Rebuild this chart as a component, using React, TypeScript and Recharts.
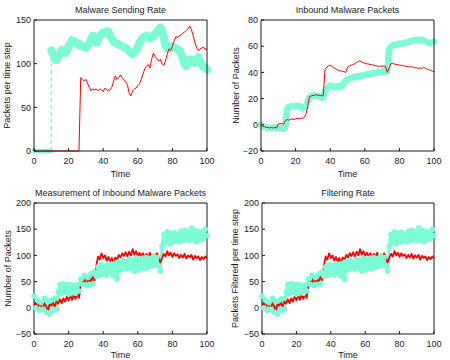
import { LineChart, Line, XAxis, YAxis } from 'recharts';

const CYAN = '#7cfcd6';
const RED = '#ff0000';
const INK = '#1a1a1a';
const FONT = '"Liberation Sans", Arial, Helvetica, sans-serif';
const W = 225;
const H = 180;

// Achsen
const TIME_TICKS = [0, 20, 40, 60, 80, 100];
const RATE_TICKS = [0, 50, 100, 150];
const INBOUND_TICKS = [-20, 0, 20, 40, 60, 80];
const MEASURE_TICKS = [-50, 0, 50, 100, 150, 200];

// Malware Sending Rate (t = 0..100, Schritt 1)
const RATE_CYAN_OFF = [0, 0, 0, 0, 0, 0, 0, 0, 0, 0, 0]; // t 0..10
const RATE_CYAN_JUMP = [0, 115]; // senkrecht bei t = 10
const RATE_CYAN = [ // t 10..100
  115, 112, 105, 104, 109, 111, 116, 113, 112, 115,
  120, 123, 127, 126, 125, 123, 121, 122, 120, 119,
  118, 121, 124, 129, 132, 128, 124, 128, 132, 134,
  136, 135, 137, 137, 132, 128, 125, 124, 123, 122,
  121, 120, 119, 118, 116, 114, 112, 111, 113, 116,
  120, 124, 127, 130, 131, 132, 130, 129, 132, 131,
  134, 136, 139, 141, 138, 130, 121, 117, 117, 118,
  120, 119, 118, 117, 115, 111, 107, 99, 97, 103,
  104, 105, 102, 101, 104, 107, 102, 99, 96, 95,
  93,
];
const RATE_RED = [
  0, 0, 0, 0, 0, 0, 0, 0, 0, 0,
  0, 0, 0, 0, 0, 0, 0, 0, 0, 0,
  0, 0, 0, 0, 0, 0, 0, 84, 82, 80,
  82, 77, 73, 69, 71, 70, 71, 69, 71, 70,
  68, 72, 70, 69, 70, 73, 80, 86, 82, 84,
  87, 84, 81, 79, 76, 66, 63, 69, 71, 72,
  75, 77, 82, 88, 94, 97, 99, 95, 105, 112,
  108, 106, 103, 105, 100, 98, 103, 111, 117, 115,
  120, 126, 131, 130, 132, 133, 135, 136, 138, 140,
  143, 139, 132, 124, 118, 115, 117, 118, 119, 116,
  117,
];

// Inbound Malware Packets
const INBOUND_CYAN = [
  0, -1, -2, -2, -2.5, -2, -2.5, -2, -2.5, -2.5,
  -2.5, -2, -2.5, -3, -2, 12, 13.5, 14, 14.5, 14,
  14.5, 14, 14.5, 14, 12.5, 13.5, 14, 18, 21, 22,
  22, 22.5, 22, 22, 21.5, 20.5, 21, 26, 28, 28.5,
  30, 29.5, 29, 28.5, 29, 29.5, 29, 30, 32, 34,
  34.5, 35, 35.5, 36, 36.5, 37, 37, 37.5, 37.5, 38,
  38, 38.5, 38.5, 39, 39, 39.5, 39.5, 40, 40, 40.5,
  40.5, 41, 40.5, 41, 57, 59.5, 60.5, 61, 61, 61.5,
  62, 62, 62, 62.5, 63, 63, 63.5, 64, 64.5, 64.5,
  65, 64.5, 65, 65, 64.5, 64, 63, 62.5, 62.5, 63,
  63.5,
];
const INBOUND_RED = [
  0, -1, -1.5, -2, -2, -2.5, -2, -2.5, -2, -2.5,
  0.5, 1, 1, 0.5, 3, 4, 3.5, 4, 4.5, 4,
  4.5, 5, 4.5, 5, 5, 5.5, 8, 14, 21.5, 22,
  22.5, 22.5, 23, 22.5, 22.5, 22, 22.5, 42, 44, 45,
  45.5, 44.5, 43.5, 43, 42, 41.5, 41, 41, 40.5, 40,
  44, 45, 45.5, 46, 46.5, 47.5, 48, 49, 48, 47.5,
  47, 46.5, 46.5, 46, 46, 45.5, 45, 45, 44.5, 45,
  44.5, 45, 44.5, 40, 43, 46.5, 47, 46.5, 46, 46,
  45.5, 45.5, 45, 45, 44.5, 44.5, 44, 44.5, 44, 43.5,
  43.5, 43, 43.5, 43, 44, 43, 42.5, 42, 41.5, 41,
  40.5,
];

// Measurement of Inbound Malware Packets (Filtering Rate zeigt dieselben Werte)
const MEASURE_CYAN = [
  22, 0, 15, -5, 10, -3, 18, -8, 12, -12,
  15, -5, 18, -3, 30, 45, 28, 46, 30, 44,
  26, 45, 30, 42, 28, 44, 32, 55, 45, 62,
  42, 58, 44, 65, 46, 68, 60, 78, 62, 82,
  65, 80, 62, 84, 68, 82, 60, 85, 54, 88,
  72, 90, 75, 88, 74, 92, 76, 90, 70, 95,
  72, 92, 76, 95, 74, 96, 78, 94, 80, 98,
  82, 96, 80, 70, 118, 140, 125, 145, 122, 142,
  125, 144, 128, 140, 126, 146, 128, 148, 130, 145,
  128, 152, 130, 148, 126, 146, 130, 144, 132, 150,
  138,
];
const MEASURE_RED = [
  2, 10, 0, 8, 4, -2, 9, 3, -6, 7,
  4, 10, 2, 12, 8, 16, 9, 18, 12, 22,
  14, 24, 15, 26, 17, 28, 19, 42, 52, 47,
  58, 50, 56, 48, 60, 53, 80, 98, 92, 104,
  95, 100, 90, 97, 88, 95, 86, 96, 92, 101,
  96, 104, 99, 106, 98, 107, 100, 112, 102, 108,
  99, 105, 98, 104, 96, 103, 97, 105, 95, 102,
  96, 104, 97, 86, 95, 103, 98, 108, 100, 105,
  97, 104, 99, 102, 95, 101, 96, 103, 94, 100,
  96, 101, 92, 99, 95, 98, 91, 97, 93, 98,
  94,
];

const pts = (ys: number[], start = 0) => ys.map((y, i) => ({ x: start + i, y }));
const minus = (v: number) => (v < 0 ? '\u2212' + Math.abs(v) : String(v));

type Kind = 'thick' | 'dash' | 'red' | 'dots';
type Series = { data: { x: number; y: number }[]; kind: Kind; width?: number };

const PANELS = [
  {
    title: 'Malware Sending Rate', yLabel: 'Packets per time step',
    ox: 0, oy: 0, left: 34, right: 207, top: 20, bottom: 151, yLabelX: 7, timeOffset: 3,
    yDomain: [0, 150], yTicks: RATE_TICKS,
    lines: [
      { data: RATE_CYAN_JUMP.map((y) => ({ x: 10, y })), kind: 'dash' },
      { data: pts(RATE_CYAN_OFF), kind: 'thick', width: 4.5 },
      { data: pts(RATE_CYAN, 10), kind: 'thick', width: 8 },
      { data: pts(RATE_RED), kind: 'red', width: 1 },
    ] as Series[],
  },
  {
    title: 'Inbound Malware Packets', yLabel: 'Number of Packets',
    ox: 225, oy: 0, left: 261, right: 434, top: 20, bottom: 151, yLabelX: 10.5, timeOffset: 3,
    yDomain: [-20, 80], yTicks: INBOUND_TICKS,
    lines: [
      { data: pts(INBOUND_CYAN), kind: 'thick', width: 6.5 },
      { data: pts(INBOUND_RED), kind: 'red', width: 1 },
    ] as Series[],
  },
  {
    title: 'Measurement of Inbound Malware Packets', yLabel: 'Number of Packets',
    ox: 0, oy: 180, left: 34, right: 207, top: 203, bottom: 334, yLabelX: 8, timeOffset: 2.5,
    yDomain: [-50, 200], yTicks: MEASURE_TICKS,
    lines: [
      { data: pts(MEASURE_CYAN), kind: 'dots' },
      { data: pts(MEASURE_RED), kind: 'red', width: 1.8 },
    ] as Series[],
  },
  {
    title: 'Filtering Rate', yLabel: 'Packets Filtered per time step',
    ox: 225, oy: 180, left: 262, right: 434, top: 203, bottom: 334, yLabelX: 10, timeOffset: 2.5,
    yDomain: [-50, 200], yTicks: MEASURE_TICKS,
    lines: [
      { data: pts(MEASURE_CYAN), kind: 'dots' },
      { data: pts(MEASURE_RED), kind: 'red', width: 1.8 },
    ] as Series[],
  },
];

function renderSeries(s: Series, i: number) {
  const common = { key: i, data: s.data, dataKey: 'y', dot: false as const, activeDot: false as const, isAnimationActive: false, strokeLinejoin: 'round' as const };
  if (s.kind === 'thick') return <Line {...common} stroke={CYAN} strokeWidth={s.width} strokeLinecap="round" />;
  if (s.kind === 'dash') return <Line {...common} stroke={CYAN} strokeWidth={1.5} strokeDasharray="4 3" />;
  if (s.kind === 'dots')
    return <Line {...common} stroke={CYAN} strokeWidth={3} dot={{ r: 2.8, fill: CYAN, stroke: 'none' }} />;
  return <Line {...common} stroke={RED} strokeWidth={s.width} />;
}

function Panel({ cfg }: { cfg: (typeof PANELS)[number] }) {
  const { ox, oy, left, right, top, bottom } = cfg;
  const tickStyle = { fontSize: 9, fill: INK };
  return (
    <>
      <div
        style={{
          position: 'absolute', left, top: top - 16, width: right - left, height: 12,
          lineHeight: '12px', fontSize: 9, textAlign: 'center', color: INK,
        }}
      >
        {cfg.title}
      </div>
      <div style={{ position: 'absolute', left: ox, top: oy }}>
        <LineChart
          width={W}
          height={H}
          margin={{ top: top - oy - 1, right: ox + W - right - 1, bottom: 0, left: 0 }}
        >
          <XAxis
            dataKey="x" type="number" domain={[0, 100]} ticks={TIME_TICKS} interval={0}
            height={oy + H - bottom} stroke={INK} tickSize={-3} tickMargin={10} tick={tickStyle}
            label={{ value: 'Time', position: 'insideBottom', offset: cfg.timeOffset, fontSize: 9, fill: INK }}
          />
          <XAxis
            xAxisId="top" orientation="top" dataKey="x" type="number" domain={[0, 100]}
            ticks={TIME_TICKS} interval={0} height={1} stroke={INK} tickSize={-3} tick={false}
          />
          <YAxis
            type="number" domain={cfg.yDomain} ticks={cfg.yTicks} interval={0}
            width={left - ox} stroke={INK} tickSize={-3} tickMargin={6} tick={tickStyle}
            tickFormatter={minus}
            label={{
              value: cfg.yLabel, angle: -90, position: 'insideLeft', offset: cfg.yLabelX,
              fontSize: 9, fill: INK, textAnchor: 'middle',
            }}
          />
          <YAxis
            yAxisId="right" orientation="right" type="number" domain={cfg.yDomain}
            ticks={cfg.yTicks} interval={0} width={1} stroke={INK} tickSize={-3} tick={false}
          />
          {cfg.lines.map(renderSeries)}
        </LineChart>
      </div>
    </>
  );
}

export default function App() {
  return (
    <div
      style={{
        position: 'absolute', left: 0, top: 0, width: 450, height: 360,
        background: '#fff', fontFamily: FONT, overflow: 'hidden',
      }}
    >
      {PANELS.map((p) => (
        <Panel key={p.title} cfg={p} />
      ))}
    </div>
  );
}
